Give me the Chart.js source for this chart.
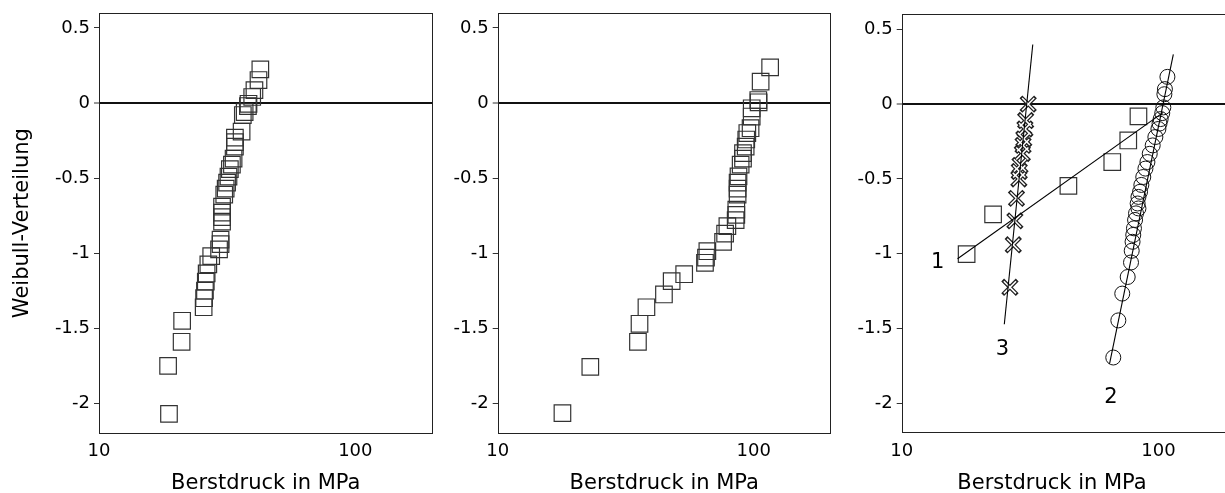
<!DOCTYPE html>
<html>
<head>
<meta charset="utf-8">
<script src="https://cdn.jsdelivr.net/npm/chart.js@4.4.1/dist/chart.umd.min.js"></script>
<style>
  html, body { margin: 0; padding: 0; background: #fff; overflow: hidden; width: 1225px; height: 493px; }
  canvas { position: absolute; top: 0; }
</style>
</head>
<body>
<canvas id="c1" width="434" height="493"></canvas>
<canvas id="c2" width="398" height="493"></canvas>
<canvas id="c3" width="405" height="493"></canvas>
<script>
// axis texts and ticks
const yTitle = "Weibull-Verteilung";
const xTitle = "Berstdruck in MPa";
const xTicks = [10, 100];
const yTicks = [0.5, 0, -0.5, -1, -1.5, -2];

// panel 1 (squares)
const p1X = [18.75, 18.6, 21.0, 21.1, 25.6, 25.7, 25.9, 26.1, 26.3, 26.7, 27.4, 29.4, 29.8, 29.8,
             30.2, 30.2, 30.2, 30.2, 30.8, 31.2, 31.6, 32.0, 32.4, 33.0, 33.5, 33.9, 33.9, 33.9,
             36.0, 36.4, 37.0, 38.1, 38.3, 39.6, 40.4, 41.9, 42.6];
const p1Y = [-2.07, -1.75, -1.59, -1.45, -1.36, -1.30, -1.25, -1.19, -1.135, -1.075, -1.02, -0.975, -0.94, -0.91,
             -0.79, -0.76, -0.73, -0.69, -0.61, -0.57, -0.53, -0.49, -0.44, -0.41, -0.37, -0.29, -0.26, -0.23,
             -0.19, -0.08, -0.06, -0.02, -0.005, 0.04, 0.086, 0.153, 0.224];

// panel 2 (squares)
const p2X = [17.9, 23.0, 35.3, 35.8, 38.1, 44.6, 47.8, 53.5, 64.5, 65.1, 65.9, 75.9, 77.3, 78.9,
             85.0, 85.5, 85.5, 86.5, 86.5, 86.5, 87.2, 88.9, 90.8, 90.8, 93.0, 93.5, 94.4, 97.2,
             98.2, 98.2, 104.5, 104.2, 106.4, 115.9];
const p2Y = [-2.065, -1.757, -1.59, -1.47, -1.36, -1.275, -1.186, -1.14, -1.064, -1.03, -0.987, -0.925, -0.87, -0.82,
             -0.78, -0.745, -0.71, -0.61, -0.57, -0.53, -0.489, -0.41, -0.37, -0.334, -0.29, -0.243, -0.2, -0.168,
             -0.09, -0.035, 0.005, 0.02, 0.142, 0.237];

// panel 3, series 1 (squares) with its fit line
const s1X = [17.9, 22.7, 44.6, 66.1, 76.3, 83.6];
const s1Y = [-1.002, -0.737, -0.546, -0.387, -0.243, -0.082];
const fit1X = [16.5, 104.5];
const fit1Y = [-1.033, -0.055];

// panel 3, series 2 (circles) with its fit line
const s2X = [66.7, 69.8, 72.3, 75.9, 78.2, 78.7, 79.3, 79.8, 80.3, 81.1, 81.8, 83.0, 83.6, 83.6, 84.8,
             85.8, 87.3, 89.0, 90.6, 92.5, 95.0, 97.3, 100.0, 101.0, 102.0, 103.5, 104.5, 105.5, 106.0, 108.4];
const s2Y = [-1.693, -1.445, -1.266, -1.155, -1.058, -0.98, -0.92, -0.874, -0.83, -0.774, -0.73, -0.664, -0.697, -0.62, -0.586,
             -0.54, -0.487, -0.431, -0.387, -0.332, -0.276, -0.22, -0.166, -0.13, -0.10, -0.06, -0.022, 0.066, 0.10, 0.182];
const fit2X = [64.5, 114.3];
const fit2Y = [-1.735, 0.332];

// panel 3, series 3 (crosses) with its fit line
const s3X = [26.4, 27.2, 27.6, 28.0, 28.6, 28.7, 28.9, 29.5, 29.7, 29.9, 30.2, 30.4, 31.1];
const s3Y = [-1.224, -0.94, -0.78, -0.63, -0.50, -0.45, -0.409, -0.33, -0.276, -0.232, -0.166, -0.11, 0.0];
const fit3X = [25.1, 32.4];
const fit3Y = [-1.471, 0.398];

// curve numbers
const curveText = ["1", "2", "3"];
const curveX = [13.8, 65.3, 24.7];
const curveY = [-1.058, -1.962, -1.637];

const pts = (xs, ys) => xs.map((x, i) => ({ x: x, y: ys[i] }));
const FONT = "DejaVu Sans";

const framePlugin = {
  id: "frame",
  beforeDatasetsDraw(chart) {
    const { ctx, chartArea: a } = chart;
    ctx.save();
    ctx.strokeStyle = "#222";
    ctx.lineWidth = 1;
    ctx.strokeRect(Math.round(a.left) + 0.5, Math.round(a.top) + 0.5,
                   Math.round(a.right - a.left) - 1, Math.round(a.bottom - a.top) - 1);
    ctx.restore();
  }
};

const curveLabels = {
  id: "curveLabels",
  afterDatasetsDraw(chart) {
    const { ctx, scales } = chart;
    ctx.save();
    ctx.fillStyle = "#000";
    ctx.font = "21px " + FONT;
    ctx.textAlign = "center";
    ctx.textBaseline = "middle";
    curveText.forEach((t, i) => {
      ctx.fillText(t, scales.x.getPixelForValue(curveX[i]), scales.y.getPixelForValue(curveY[i]));
    });
    ctx.restore();
  }
};

function makeOptions(yWidth, showYTitle, padRight, xText) {
  return {
    responsive: false,
    animation: false,
    events: [],
    layout: { padding: { top: 11.6, right: padRight, left: 0, bottom: 0 } },
    plugins: { legend: { display: false }, tooltip: { enabled: false } },
    scales: {
      x: {
        type: "logarithmic",
        min: 10,
        max: 200,
        afterBuildTicks: s => { s.ticks = xTicks.map(v => ({ value: v })); },
        afterFit: s => { s.height = 59.6; s.paddingLeft = 0; s.paddingRight = 0; },
        grid: { display: false, drawTicks: false },
        border: { display: false },
        ticks: {
          color: "#000", padding: 7, maxRotation: 0, autoSkip: false,
          font: { family: FONT, size: 18 },
          callback: v => String(v)
        },
        title: {
          display: true, text: xText, color: "#000",
          font: { family: FONT, size: 21, lineHeight: 1 },
          padding: { top: 0, bottom: -1.5 }
        }
      },
      y: {
        min: -2.2,
        max: 0.6,
        afterBuildTicks: s => { s.ticks = yTicks.map(v => ({ value: v })); },
        afterFit: s => { s.width = yWidth; s.paddingTop = 0; s.paddingBottom = 0; },
        grid: {
          drawOnChartArea: true, drawTicks: true, tickLength: 5,
          color: c => (c.tick && c.tick.value === 0) ? "#111" : "rgba(0,0,0,0)",
          lineWidth: c => (c.tick && c.tick.value === 0) ? 2 : 1,
          tickColor: "#333", tickWidth: 1
        },
        border: { display: false },
        ticks: {
          color: "#000", padding: 4,
          font: { family: FONT, size: 18 },
          callback: v => String(v)
        },
        title: {
          display: showYTitle, text: yTitle, color: "#000",
          font: { family: FONT, size: 21, lineHeight: 1 },
          padding: { top: 12.5, bottom: 0 }
        }
      }
    }
  };
}

function squares(xs, ys) {
  return {
    data: pts(xs, ys),
    pointStyle: "rect",
    pointRadius: 11.7,
    borderColor: "#333",
    backgroundColor: "rgba(0,0,0,0)",
    borderWidth: 1.2,
    order: 3
  };
}

function fitLine(xs, ys) {
  return {
    data: pts(xs, ys),
    showLine: true,
    pointRadius: 0,
    borderColor: "#000",
    borderWidth: 1.1,
    order: 0
  };
}

// place a panel so that its plot area ends exactly at plotRight (page pixels)
function panel(id, left, yWidth, plotRight, showYTitle, xText, datasets, plugins) {
  const cv = document.getElementById(id);
  cv.style.left = left + "px";
  const inner = plotRight - left;
  let pad = 30;
  let w = Math.ceil(inner + pad);
  pad = w - inner;
  const make = () => new Chart(cv, {
    type: "scatter",
    data: { datasets: datasets() },
    options: makeOptions(yWidth, showYTitle, pad, xText),
    plugins: plugins
  });
  cv.width = w; cv.height = 493;
  let chart = make();
  const diff = inner - chart.chartArea.right;
  if (Math.abs(diff) > 0.05) {
    chart.destroy();
    const w2 = Math.ceil(w + diff);
    pad = pad + (w2 - w - diff);
    cv.width = w2; cv.height = 493;
    chart = make();
  }
  return chart;
}

panel("c1", 0, 99, 432.5, true, xTitle, () => [squares(p1X, p1Y)], [framePlugin]);

panel("c2", 434, 63.7, 830.8, false, xTitle, () => [squares(p2X, p2Y)], [framePlugin]);

// the right panel is cut by the page edge; its title sits left of the plot centre
panel("c3", 832, 69.7, 1235.7, false, xTitle + "\u00A0\u00A0\u00A0\u00A0\u00A0", () => [
  fitLine(fit1X, fit1Y),
  fitLine(fit2X, fit2Y),
  fitLine(fit3X, fit3Y),
  squares(s1X, s1Y),
  {
    data: pts(s2X, s2Y),
    pointStyle: "circle",
    pointRadius: 7.5,
    borderColor: "#111",
    backgroundColor: "rgba(0,0,0,0)",
    borderWidth: 1,
    order: 3
  },
  {
    data: pts(s3X, s3Y),
    pointStyle: "crossRot",
    pointRadius: 8.6,
    borderColor: "#fff",
    borderWidth: 1.5,
    order: 1
  },
  {
    data: pts(s3X, s3Y),
    pointStyle: "crossRot",
    pointRadius: 10.3,
    borderColor: "#222",
    borderWidth: 4,
    order: 2
  }
], [framePlugin, curveLabels]);
</script>
</body>
</html>
